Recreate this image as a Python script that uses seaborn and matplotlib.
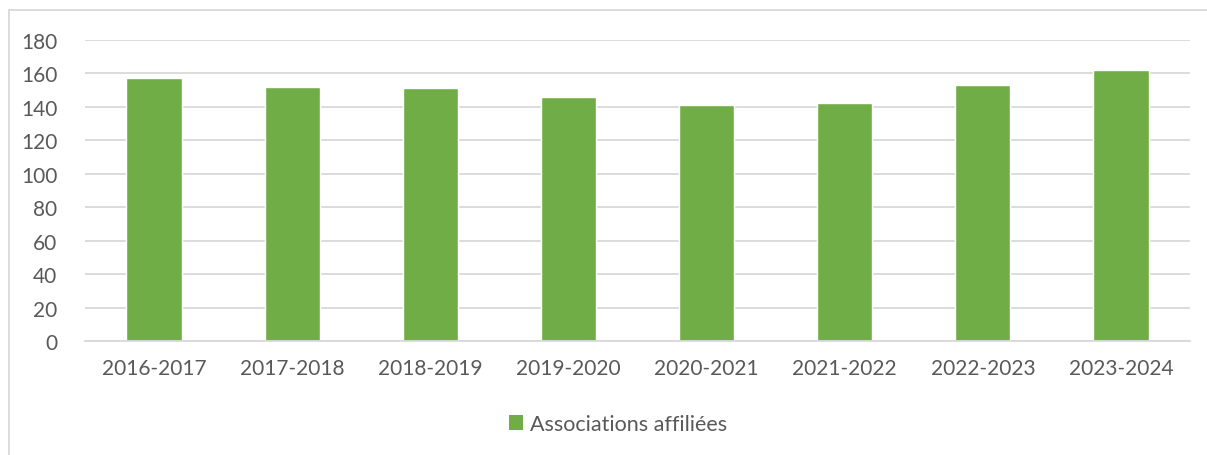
import matplotlib
matplotlib.use("Agg")
import matplotlib.pyplot as plt
from matplotlib.patches import Rectangle
import seaborn as sns
import pandas as pd

categories = ["2016-2017", "2017-2018", "2018-2019", "2019-2020",
              "2020-2021", "2021-2022", "2022-2023", "2023-2024"]
values = [157, 152, 151, 146, 141, 142, 153, 162]
series_name = "Associations affiliées"
yticks = [0, 20, 40, 60, 80, 100, 120, 140, 160, 180]

df = pd.DataFrame({"cat": categories, "val": values, "series": series_name})

sns.set_theme(style="white")
plt.rcParams['font.family'] = ['Lato', 'DejaVu Sans']

W, H = 1207, 456
fig = plt.figure(figsize=(W / 100, H / 100), dpi=100)
ax = fig.add_axes([85 / W, 1 - 342 / H, (1190 - 85) / W, (342 - 40.7) / H])

green = "#70ad47"
sns.barplot(data=df, x="cat", y="val", hue="series", palette=[green],
            width=0.4, ax=ax, saturation=1, legend=True)

ax.set_ylim(0, 180)
ax.set_xlim(-0.5, len(categories) - 0.5)
ax.set_yticks(yticks)
ax.yaxis.grid(True, color="#d9d9d9", linewidth=1.3)
ax.set_axisbelow(True)
for s in ["top", "right", "left"]:
    ax.spines[s].set_visible(False)
ax.spines["bottom"].set_color("#d9d9d9")
ax.spines["bottom"].set_linewidth(1.3)
ax.set_xlabel("")
ax.set_ylabel("")
ax.tick_params(axis="both", length=0, labelsize=15, colors="#595959")
ax.tick_params(axis="y", pad=20)
ax.tick_params(axis="x", pad=12)

ax.legend_.remove()
handles = [Rectangle((0, 0), 1, 1, facecolor=green, edgecolor="none")]
leg = fig.legend(handles, [series_name], loc="center",
                 bbox_to_anchor=(618 / W, 1 - 425 / H), frameon=False,
                 fontsize=15.5, handlelength=0.65, handleheight=0.65,
                 handletextpad=0.3)
for t in leg.get_texts():
    t.set_color("#595959")

# outer chart frame
fig.patches.append(Rectangle((9 / W, -0.1), 1.2, 1 - 11 / H + 0.1,
                             transform=fig.transFigure, fill=False,
                             edgecolor="#d9d9d9", linewidth=1.3))

fig.savefig("out.png", dpi=100)
